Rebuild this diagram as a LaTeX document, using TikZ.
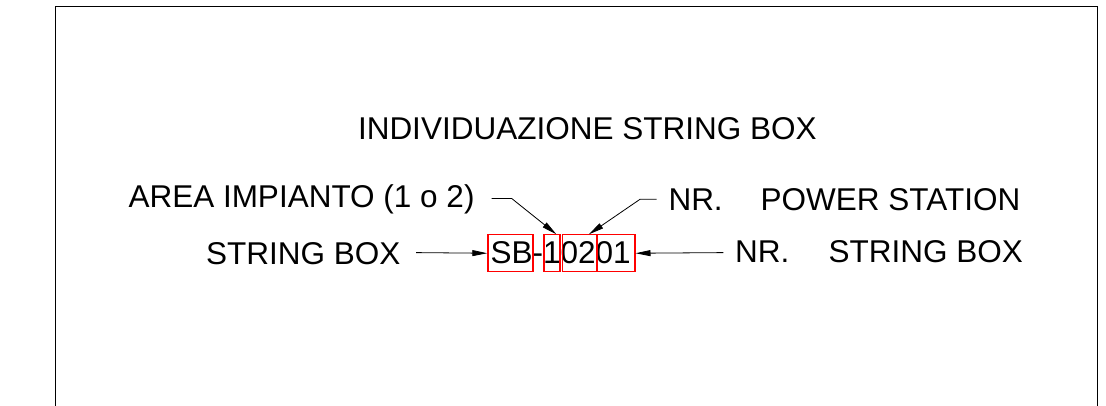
\documentclass[tikz,border=0pt]{standalone}
\usepackage{fontspec}
\setmainfont{Liberation Sans}
\usetikzlibrary{arrows.meta}
\definecolor{cadred}{RGB}{255,0,0}
\begin{document}
\begin{tikzpicture}[x=1pt,y=-1pt,
  lbl/.style={inner sep=0pt,anchor=base west,font=\fontsize{31.5}{34}\selectfont},
  redbox/.style={draw=cadred,line width=1.2pt,inner sep=0pt,anchor=north west,minimum height=36.7pt},
  arr/.style={draw=black,line width=0.8pt,-{Triangle[length=15pt,width=6pt]}},
  frame/.style={draw=black,line width=1pt}]
\useasboundingbox (0,0) rectangle (1106,406);
% frame
\draw[frame] (55,406) -- (55,7) -- (1097.7,7) -- (1097.7,406);
% texts
\node[lbl] (title) at (357.8,139.3) {INDIVIDUAZIONE STRING BOX};
\node[lbl] (area) at (128.3,207.3) {AREA IMPIANTO (1 o 2)};
\node[lbl] (sbl) at (205.9,264.3) {STRING BOX};
\node[lbl] (psl) at (668.3,211) {NR.\hspace{37.9pt}POWER STATION};
\node[lbl] (nrl) at (734.9,262.3) {NR.\hspace{39.3pt}STRING BOX};
\node[lbl] (code) at (490.3,264) {SB-10201};
% leader coordinates
\coordinate (sbtail) at (416,252.6);
\coordinate (nrtail) at (723.3,252.6);
\coordinate (a1) at (491.7,198.5);
\coordinate (a2) at (511.7,198.5);
\coordinate (p1) at (656.7,199.3);
\coordinate (p2) at (640,199.3);
% red boxes
\node[redbox,minimum width=45pt] (sb) at (487.3,234.3) {};
\node[redbox,minimum width=16pt] (one) at (543.3,234.3) {};
\node[redbox,minimum width=34pt] (ps) at (561.7,234.3) {};
\node[redbox,minimum width=37.6pt] (nr) at (596.7,234.3) {};
% connectors
\draw[arr] (sbtail) -- (sb.west);
\draw[arr] (nrtail) -- (nr.east);
\draw[arr] (a1) -- (a2) -- ([xshift=4.5pt]one.north);
\draw[arr] (p1) -- (p2) -- ([xshift=9.6pt]ps.north);
\end{tikzpicture}
\end{document}
